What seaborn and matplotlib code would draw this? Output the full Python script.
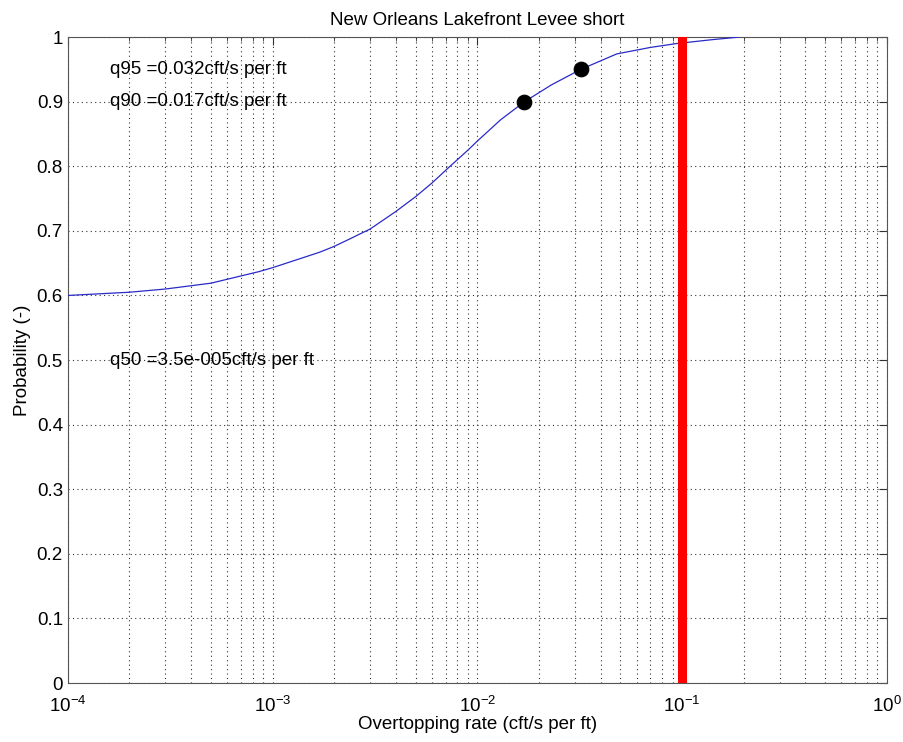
import numpy as np
import pandas as pd
import matplotlib
matplotlib.use("Agg")
import matplotlib.pyplot as plt
import seaborn as sns
from matplotlib.ticker import LogLocator, FixedLocator, NullFormatter

# Cumulative probability of overtopping rate
rate = [1e-4, 2e-4, 3e-4, 5e-4, 8.6e-4, 1e-3, 1.7e-3, 2e-3, 2.4e-3, 3e-3, 4e-3, 5e-3,
        6e-3, 7.3e-3, 9e-3, 1e-2, 1.3e-2, 1.7e-2, 2.3e-2, 3.2e-2, 4.8e-2, 7e-2, 9.4e-2,
        0.14, 0.19]
prob = [0.600, 0.605, 0.610, 0.619, 0.637, 0.643, 0.667, 0.676, 0.688, 0.703, 0.730, 0.753,
        0.774, 0.799, 0.825, 0.839, 0.872, 0.900, 0.926, 0.950, 0.974, 0.984, 0.990,
        0.996, 1.000]

# Quantile markers
q_rate = [0.017, 0.032]
q_prob = [0.90, 0.95]

# Allowable rate
limit_rate = 0.1

labels = ["q95 =0.032cft/s per ft", "q90 =0.017cft/s per ft", "q50 =3.5e-005cft/s per ft"]
label_y = [0.95, 0.90, 0.50]

sns.set_style("white")
plt.rcParams["font.family"] = ["Liberation Sans", "DejaVu Sans"]
plt.rcParams["text.color"] = "black"
plt.rcParams["axes.labelcolor"] = "black"

fig = plt.figure(figsize=(9.04, 7.42), dpi=100)
ax = fig.add_axes([0.075, 0.0795, 0.906, 0.8705])

df = pd.DataFrame({"rate": rate, "prob": prob})
sns.lineplot(data=df, x="rate", y="prob", ax=ax, color="#2a2ac8", linewidth=0.9, zorder=3)
ax.axvline(limit_rate, color="#ff0000", linewidth=6.5, zorder=4)
sns.scatterplot(x=q_rate, y=q_prob, ax=ax, color="black", s=110, edgecolor="black", zorder=5)

ax.set_xscale("log")
ax.set_xlim(1e-4, 1)
ax.set_ylim(0, 1)
ax.xaxis.set_major_locator(LogLocator(base=10, numticks=10))
ax.xaxis.set_minor_locator(LogLocator(base=10, subs=np.arange(2, 10), numticks=20))
ax.xaxis.set_minor_formatter(NullFormatter())
ax.yaxis.set_major_locator(FixedLocator(np.round(np.arange(0, 1.01, 0.1), 1)))
ax.set_yticklabels(["0"] + [f"{v:.1f}" for v in np.arange(0.1, 0.95, 0.1)] + ["1"])

ax.grid(True, which="major", axis="both", linestyle=(0, (1, 3)), color="#333333", linewidth=0.8)
ax.grid(True, which="minor", axis="x", linestyle=(0, (1, 3)), color="#333333", linewidth=0.8)

ax.tick_params(axis="both", which="major", direction="in", length=6, labelsize=13.5, width=0.8,
               top=True, right=True, colors="#333333", labelcolor="black")
ax.tick_params(axis="x", which="minor", direction="in", length=3, width=0.6, top=True, colors="#333333")
ax.tick_params(axis="x", which="major", pad=9)
for s in ax.spines.values():
    s.set_color("#555555")
    s.set_linewidth(0.8)

for t, yv in zip(labels, label_y):
    ax.text(1.6e-4, yv, t, fontsize=13.5, va="center", ha="left", zorder=6)

ax.set_xlabel("Overtopping rate (cft/s per ft)", fontsize=13.5, labelpad=0)
ax.set_ylabel("Probability (-)", fontsize=13.5, labelpad=4)
ax.set_title("New Orleans Lakefront Levee short", fontsize=13.5, pad=9)

fig.savefig("out.png", dpi=100)
